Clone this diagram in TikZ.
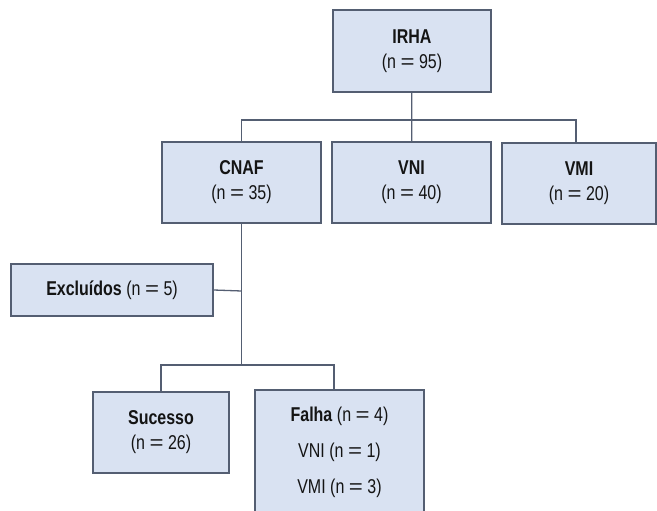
\documentclass[tikz,border=0pt]{standalone}
\usepackage{fontspec}
\setmainfont{Liberation Sans}[FakeStretch=0.8]
\usepackage{graphicx}
\usepackage{tikz}
\definecolor{caixafundo}{RGB}{217,226,242}
\definecolor{caixaborda}{RGB}{84,94,114}
\definecolor{texto}{RGB}{20,20,20}
\newcommand{\igual}{\hspace{4.5pt}\scalebox{1.5}[1]{=}\hspace{4.5pt}}
\tikzstyle{caixa} = [rectangle, draw=caixaborda, line width=1.2pt, fill=caixafundo, text=texto, align=center, inner sep=0pt, font=\fontsize{20}{25}\selectfont]
\tikzstyle{ligacao} = [draw=caixaborda, line width=1.3pt]

\begin{document}
\begin{tikzpicture}[x=1pt, y=-1pt]

    \useasboundingbox (0,0) rectangle (657,511);

    \node (irha) [caixa, minimum width=158, minimum height=82] at (412,51) {\textbf{IRHA}\\(n\igual95)};

    \node (cnaf) [caixa, minimum width=159, minimum height=81] at (241.5,182.5) {\textbf{CNAF}\\(n\igual35)};
    \node (vni) [caixa, minimum width=159, minimum height=81] at (411.5,182.5) {\textbf{VNI}\\(n\igual40)};
    \node (vmi) [caixa, minimum width=154, minimum height=81] at (579,183.5) {\textbf{VMI}\\(n\igual20)};

    \node (excluidos) [caixa, minimum width=202, minimum height=52] at (112,290) {\textbf{Excluídos} (n\igual5)};

    \node (sucesso) [caixa, minimum width=136, minimum height=81] at (161,432.5) {\textbf{Sucesso}\\(n\igual26)};
    \node (falha) [caixa, minimum width=169, minimum height=124] at (339.5,452) {\textbf{Falha} (n\igual4)\\[11pt]VNI (n\igual1)\\[11pt]VMI (n\igual3)};

    \coordinate (barraTopo) at (412,120);
    \coordinate (barraBaixo) at (241.5,365);
    \coordinate (juncaoExcl) at (241.5,291);

    \draw[ligacao] (irha) -- (vni);
    \draw[ligacao] (cnaf.north) |- (barraTopo);
    \draw[ligacao] (barraTopo) -| ([xshift=-3pt]vmi.north);
    \draw[ligacao] (cnaf.south) -- (barraBaixo);
    \draw[ligacao] (excluidos.east) -- (juncaoExcl);
    \draw[ligacao] (barraBaixo) -| (sucesso.north);
    \draw[ligacao] (barraBaixo) -| ([xshift=-5.5pt]falha.north);

\end{tikzpicture}
\end{document}
